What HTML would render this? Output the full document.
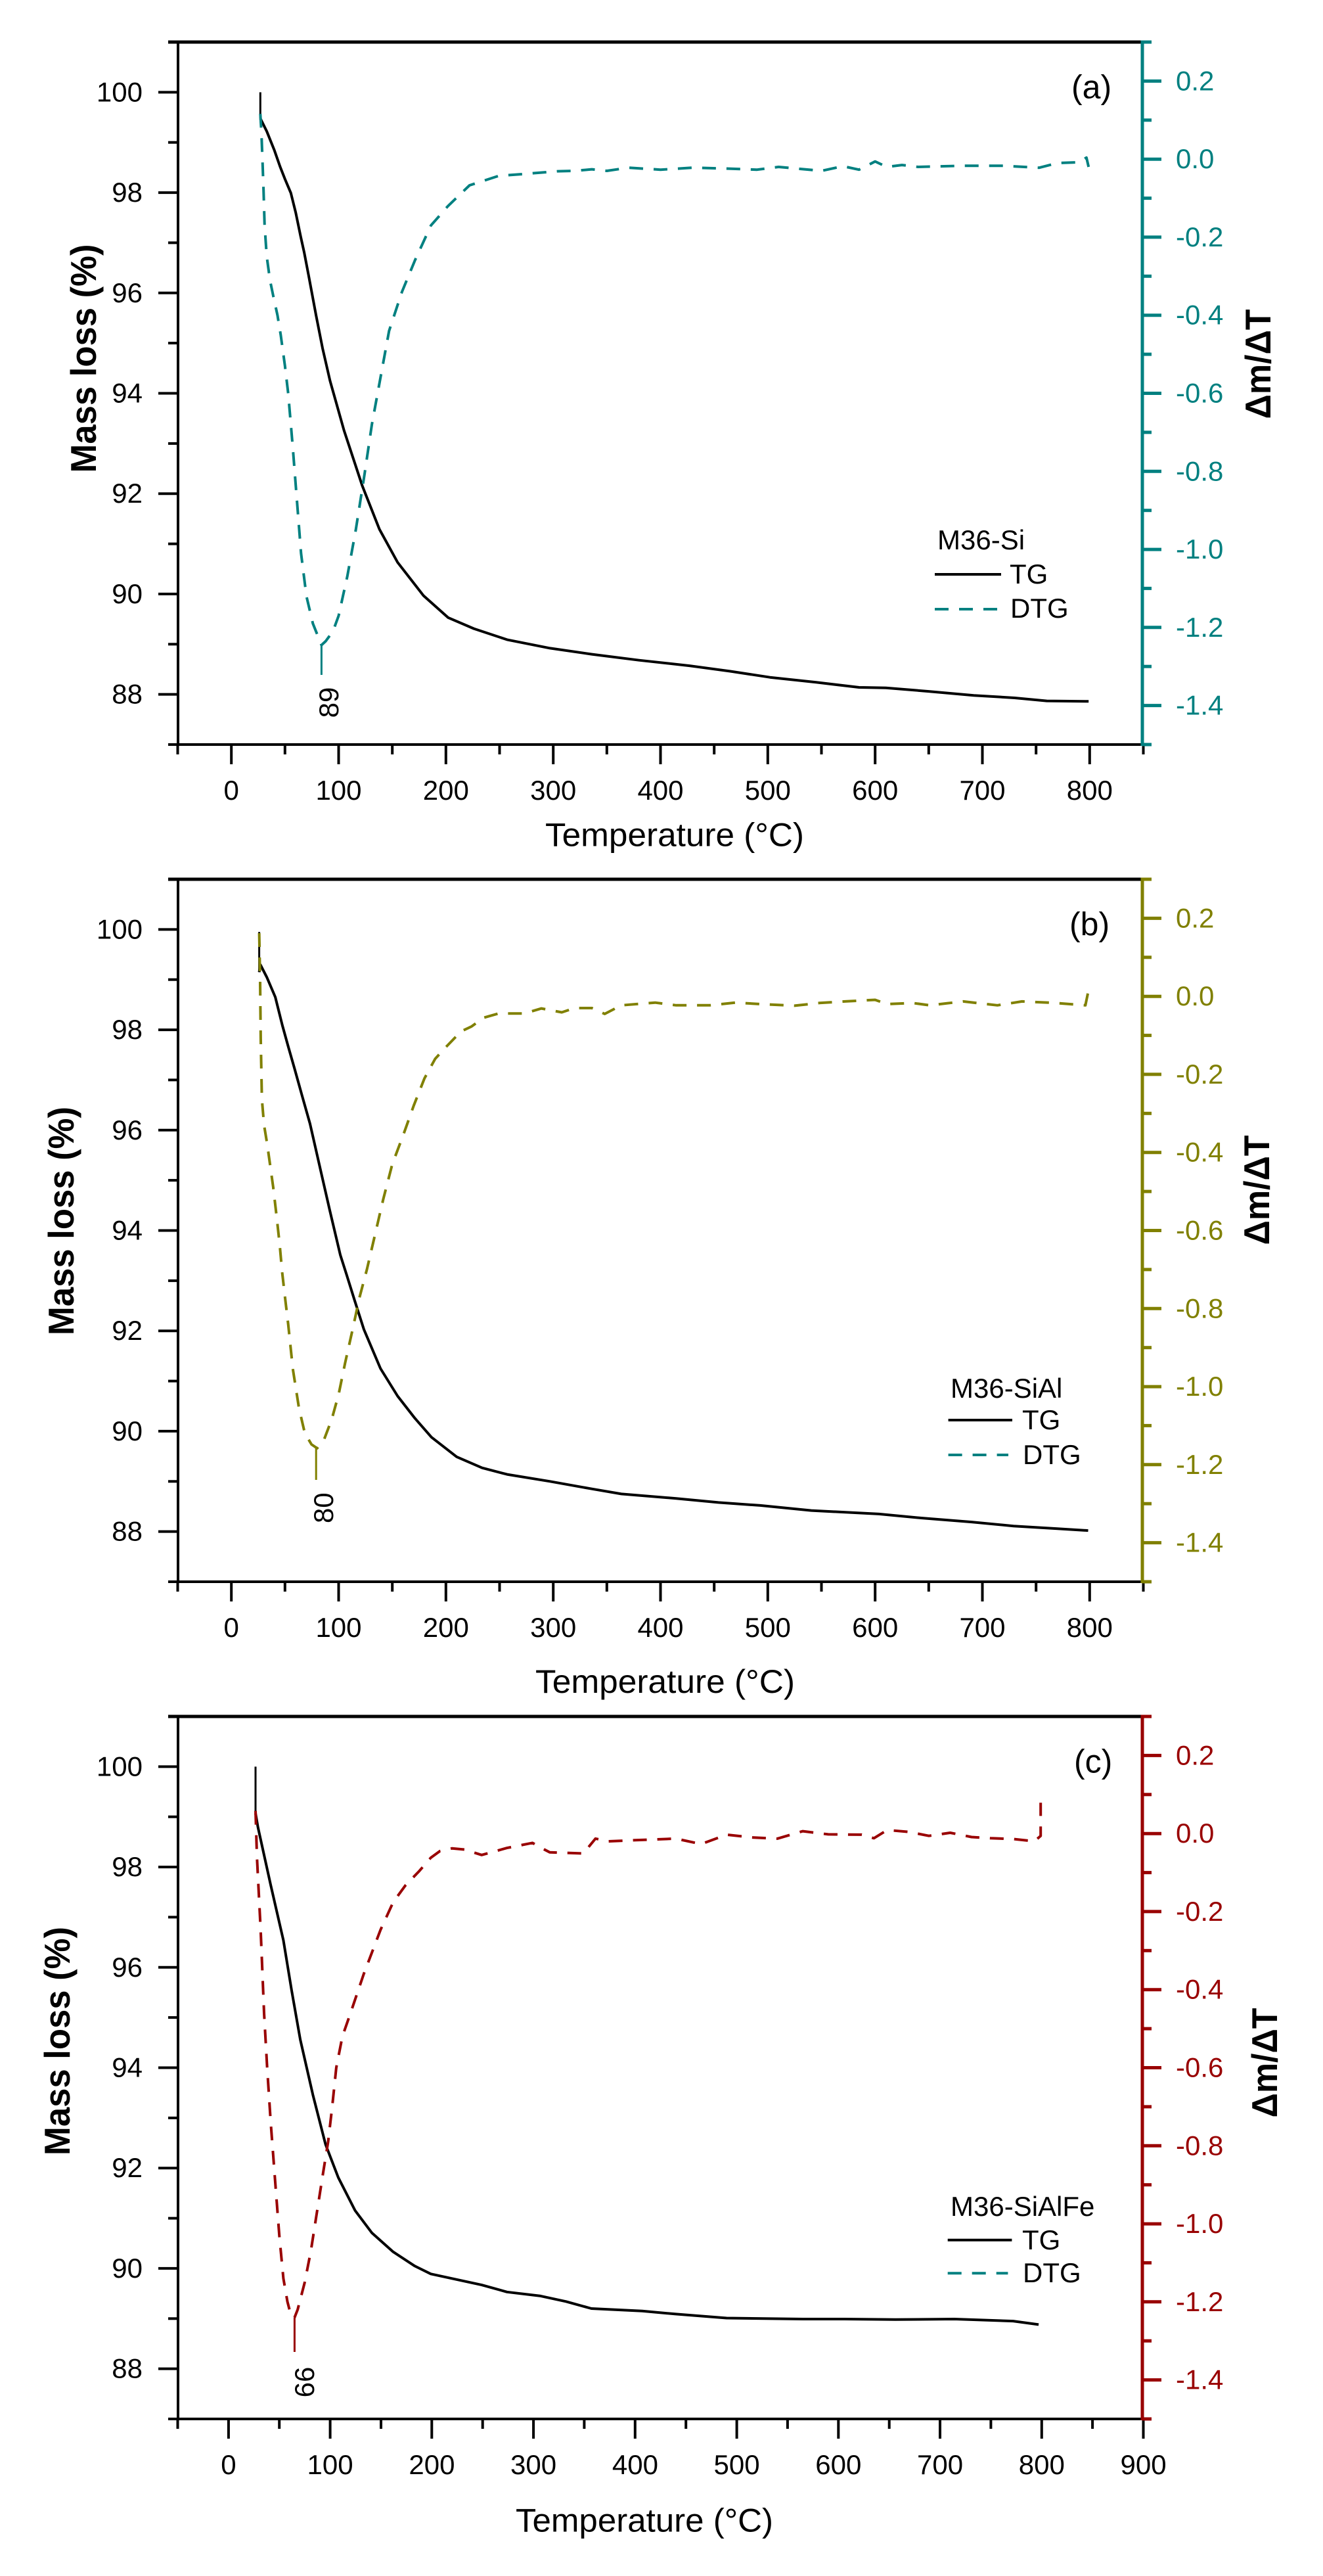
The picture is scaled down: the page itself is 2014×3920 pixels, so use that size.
<!DOCTYPE html>
<html>
<head>
<meta charset="utf-8">
<style>
html,body{margin:0;padding:0;background:#fff;}
svg{display:block;}
text{font-family:"Liberation Sans",Arial,sans-serif;}
.tl{font-size:42px;text-anchor:end;fill:#000;}
.bl{font-size:42px;text-anchor:middle;fill:#000;}
.rl{font-size:42px;text-anchor:start;}
.lg{font-size:42px;fill:#000;}
.ti{font-size:50px;fill:#000;}
.yt{font-size:55px;font-weight:bold;fill:#000;text-anchor:middle;}
.an{font-size:42px;fill:#000;text-anchor:middle;}
</style>
</head>
<body>
<svg id="svg" width="2014" height="3920" viewBox="0 0 2014 3920" xmlns="http://www.w3.org/2000/svg">
<rect x="0" y="0" width="2014" height="3920" fill="#fff"/>
<g id="plot"></g>

<!-- ================= Panel (a) ================= -->
<g>
<text class="tl" x="217" y="154.4">100</text>
<text class="tl" x="217" y="307.1">98</text>
<text class="tl" x="217" y="459.8">96</text>
<text class="tl" x="217" y="612.5">94</text>
<text class="tl" x="217" y="765.2">92</text>
<text class="tl" x="217" y="917.9">90</text>
<text class="tl" x="217" y="1070.6">88</text>
<text class="bl" x="352.2" y="1217">0</text>
<text class="bl" x="515.5" y="1217">100</text>
<text class="bl" x="678.8" y="1217">200</text>
<text class="bl" x="842.2" y="1217">300</text>
<text class="bl" x="1005.5" y="1217">400</text>
<text class="bl" x="1168.8" y="1217">500</text>
<text class="bl" x="1332.2" y="1217">600</text>
<text class="bl" x="1495.5" y="1217">700</text>
<text class="bl" x="1658.8" y="1217">800</text>
<g fill="#008080">
<text class="rl" x="1790" y="137.4">0.2</text>
<text class="rl" x="1790" y="256.2">0.0</text>
<text class="rl" x="1790" y="375">-0.2</text>
<text class="rl" x="1790" y="493.7">-0.4</text>
<text class="rl" x="1790" y="612.5">-0.6</text>
<text class="rl" x="1790" y="731.3">-0.8</text>
<text class="rl" x="1790" y="850.1">-1.0</text>
<text class="rl" x="1790" y="968.9">-1.2</text>
<text class="rl" x="1790" y="1087.6">-1.4</text>
</g>
<text class="ti" x="1631" y="149.5">(a)</text>
<text class="lg" x="1427" y="836">M36-Si</text>
<text class="lg" x="1537" y="888">TG</text>
<text class="lg" x="1538" y="940">DTG</text>
<text class="an" transform="translate(515,1069) rotate(-90)">89</text>
<text class="yt" transform="translate(146,545.5) rotate(-90)" textLength="348" lengthAdjust="spacingAndGlyphs">Mass loss (%)</text>
<text class="yt" transform="translate(1934,554) rotate(-90)" textLength="167" lengthAdjust="spacingAndGlyphs">Δm/ΔT</text>
<text class="ti" x="830" y="1287.5" textLength="394" lengthAdjust="spacingAndGlyphs">Temperature (°C)</text>
</g>

<!-- ================= Panel (b) ================= -->
<g transform="translate(0,1274)">
<text class="tl" x="217" y="154.4">100</text>
<text class="tl" x="217" y="307.1">98</text>
<text class="tl" x="217" y="459.8">96</text>
<text class="tl" x="217" y="612.5">94</text>
<text class="tl" x="217" y="765.2">92</text>
<text class="tl" x="217" y="917.9">90</text>
<text class="tl" x="217" y="1070.6">88</text>
<text class="bl" x="352.2" y="1217">0</text>
<text class="bl" x="515.5" y="1217">100</text>
<text class="bl" x="678.8" y="1217">200</text>
<text class="bl" x="842.2" y="1217">300</text>
<text class="bl" x="1005.5" y="1217">400</text>
<text class="bl" x="1168.8" y="1217">500</text>
<text class="bl" x="1332.2" y="1217">600</text>
<text class="bl" x="1495.5" y="1217">700</text>
<text class="bl" x="1658.8" y="1217">800</text>
<g fill="#808000">
<text class="rl" x="1790" y="137.4">0.2</text>
<text class="rl" x="1790" y="256.2">0.0</text>
<text class="rl" x="1790" y="375">-0.2</text>
<text class="rl" x="1790" y="493.7">-0.4</text>
<text class="rl" x="1790" y="612.5">-0.6</text>
<text class="rl" x="1790" y="731.3">-0.8</text>
<text class="rl" x="1790" y="850.1">-1.0</text>
<text class="rl" x="1790" y="968.9">-1.2</text>
<text class="rl" x="1790" y="1087.6">-1.4</text>
</g>
<text class="ti" x="1628" y="149.5">(b)</text>
</g>
<text class="lg" x="1447" y="2127">M36-SiAl</text>
<text class="lg" x="1556" y="2175">TG</text>
<text class="lg" x="1557" y="2228">DTG</text>
<text class="an" transform="translate(507,2294.7) rotate(-90)">80</text>
<text class="yt" transform="translate(112,1858) rotate(-90)" textLength="348" lengthAdjust="spacingAndGlyphs">Mass loss (%)</text>
<text class="yt" transform="translate(1932,1811) rotate(-90)" textLength="167" lengthAdjust="spacingAndGlyphs">Δm/ΔT</text>
<text class="ti" x="815" y="2576" textLength="395" lengthAdjust="spacingAndGlyphs">Temperature (°C)</text>

<!-- ================= Panel (c) ================= -->
<g transform="translate(0,2548)">
<text class="tl" x="217" y="154.4">100</text>
<text class="tl" x="217" y="307.1">98</text>
<text class="tl" x="217" y="459.8">96</text>
<text class="tl" x="217" y="612.5">94</text>
<text class="tl" x="217" y="765.2">92</text>
<text class="tl" x="217" y="917.9">90</text>
<text class="tl" x="217" y="1070.6">88</text>
<text class="bl" x="347.9" y="1217">0</text>
<text class="bl" x="502.6" y="1217">100</text>
<text class="bl" x="657.4" y="1217">200</text>
<text class="bl" x="812.1" y="1217">300</text>
<text class="bl" x="966.9" y="1217">400</text>
<text class="bl" x="1121.6" y="1217">500</text>
<text class="bl" x="1276.3" y="1217">600</text>
<text class="bl" x="1431.1" y="1217">700</text>
<text class="bl" x="1585.8" y="1217">800</text>
<text class="bl" x="1740.6" y="1217">900</text>
<g fill="#990000">
<text class="rl" x="1790" y="137.4">0.2</text>
<text class="rl" x="1790" y="256.2">0.0</text>
<text class="rl" x="1790" y="375">-0.2</text>
<text class="rl" x="1790" y="493.7">-0.4</text>
<text class="rl" x="1790" y="612.5">-0.6</text>
<text class="rl" x="1790" y="731.3">-0.8</text>
<text class="rl" x="1790" y="850.1">-1.0</text>
<text class="rl" x="1790" y="968.9">-1.2</text>
<text class="rl" x="1790" y="1087.6">-1.4</text>
</g>
<text class="ti" x="1635" y="149.5">(c)</text>
</g>
<text class="lg" x="1447" y="3372">M36-SiAlFe</text>
<text class="lg" x="1556" y="3423">TG</text>
<text class="lg" x="1557" y="3473">DTG</text>
<text class="an" transform="translate(478,3625) rotate(-90)">66</text>
<text class="yt" transform="translate(106,3106) rotate(-90)" textLength="348" lengthAdjust="spacingAndGlyphs">Mass loss (%)</text>
<text class="yt" transform="translate(1944,3139) rotate(-90)" textLength="167" lengthAdjust="spacingAndGlyphs">Δm/ΔT</text>
<text class="ti" x="785" y="3852.6" textLength="392" lengthAdjust="spacingAndGlyphs">Temperature (°C)</text>
</svg>

<script>
(function(){
var panels = [
 {oy:0, xr:900, col:'#008080',
  tg0:[27,100,99.48],
  tg:[[27,99.48],[30,99.35],[33,99.22],[40,98.85],[45.4,98.52],[50,98.27],[55.5,97.99],[60,97.6],[64.7,97.12],[68,96.8],[72,96.35],[79,95.55],[85,94.9],[92,94.25],[105,93.26],[122,92.16],[138,91.29],[155,90.63],[179,89.97],[202,89.53],[226,89.31],[257,89.09],[297,88.92],[336,88.8],[380,88.68],[427,88.57],[465,88.46],[502,88.34],[545,88.24],[585,88.14],[610,88.13],[650,88.06],[692,87.98],[730,87.93],[760,87.87],[799,87.86]],
  dtg:[[27,0.116],[28,0.07],[29,0.0],[30,-0.08],[31,-0.17],[33,-0.25],[36,-0.31],[39,-0.35],[43,-0.40],[46,-0.45],[50,-0.53],[53,-0.6],[57,-0.73],[61,-0.87],[65,-1.01],[70,-1.12],[76,-1.19],[84,-1.245],[88,-1.235],[92,-1.22],[96,-1.2],[100,-1.17],[104,-1.12],[108,-1.07],[116,-0.95],[124,-0.81],[131,-0.68],[139,-0.56],[147,-0.44],[159,-0.34],[171,-0.26],[186,-0.17],[202,-0.12],[222,-0.067],[249,-0.043],[273,-0.038],[304,-0.031],[320,-0.03],[336,-0.026],[350,-0.03],[370,-0.022],[400,-0.027],[430,-0.022],[460,-0.024],[490,-0.027],[510,-0.02],[530,-0.025],[550,-0.03],[570,-0.018],[585,-0.027],[600,-0.006],[611,-0.02],[625,-0.015],[640,-0.02],[680,-0.017],[720,-0.017],[753,-0.022],[770,-0.01],[790,-0.008],[797,0.004],[799,-0.02]],
  ann:[84,-1.245,1027]},
 {oy:1274, xr:900, col:'#808000',
  tg0:[26,99.95,99.15],
  tg:[[26,99.15],[27,99.3],[33,99.05],[41,98.65],[47.5,98.09],[53,97.67],[59,97.22],[66,96.68],[73.3,96.13],[82.7,95.25],[92,94.38],[101.6,93.51],[107.4,93.12],[115,92.6],[123.5,92.03],[139,91.25],[155,90.7],[171,90.26],[186.5,89.88],[210,89.49],[233.7,89.27],[257,89.14],[297,89.0],[336,88.85],[363.5,88.75],[414.6,88.66],[454,88.58],[493,88.52],[540.5,88.42],[603.5,88.35],[643,88.27],[690,88.19],[729,88.11],[768.7,88.06],[798.6,88.02]],
  dtg:[[26,0.162],[26.8,0.05],[27.4,-0.107],[28.5,-0.264],[30.5,-0.33],[33.3,-0.377],[36,-0.43],[39,-0.489],[42,-0.56],[45,-0.635],[47.4,-0.708],[50,-0.77],[53,-0.84],[57.4,-0.956],[63,-1.055],[68.5,-1.12],[74.7,-1.148],[80,-1.158],[86.5,-1.135],[93.6,-1.084],[100,-1.02],[106,-0.94],[112.5,-0.86],[119.6,-0.77],[126.3,-0.70],[134,-0.61],[141.6,-0.52],[150,-0.43],[160.4,-0.354],[170,-0.28],[180,-0.21],[190,-0.16],[200,-0.13],[214,-0.09],[224,-0.077],[235,-0.055],[249,-0.044],[273,-0.044],[289,-0.031],[308,-0.041],[320,-0.03],[336,-0.03],[348,-0.045],[363.5,-0.023],[395,-0.016],[414.6,-0.023],[446,-0.023],[470,-0.016],[493,-0.02],[525,-0.024],[548,-0.017],[572,-0.013],[600,-0.009],[611,-0.02],[635,-0.017],[651,-0.023],[682,-0.013],[714,-0.023],[737,-0.013],[768.7,-0.017],[796,-0.023],[798.6,0.011]],
  ann:[79,-1.158,2252-1274]},
 {oy:2548, xr:950, col:'#990000',
  tg0:[26.6,100,99.07],
  tg:[[26.6,99.07],[29,98.79],[41.5,97.64],[54,96.54],[62,95.55],[70.6,94.56],[83,93.46],[95.5,92.47],[108,91.81],[124.6,91.15],[141,90.71],[162,90.33],[183,90.05],[199,89.89],[224,89.78],[249,89.67],[274,89.53],[307,89.45],[332,89.34],[357,89.2],[407,89.15],[440,89.09],[490,89.01],[565,88.99],[606,88.99],[656,88.98],[714,88.99],[772,88.95],[797,88.88]],
  dtg:[[26.6,0.058],[28,-0.062],[31.6,-0.247],[35,-0.46],[38,-0.60],[41.5,-0.74],[45.7,-0.885],[50,-1.03],[54,-1.14],[58,-1.2],[62,-1.24],[65,-1.24],[68,-1.22],[75,-1.15],[81,-1.07],[87,-0.97],[93,-0.87],[98,-0.79],[102,-0.70],[106,-0.60],[112,-0.52],[120,-0.46],[133,-0.36],[149.5,-0.247],[162,-0.176],[174,-0.133],[187,-0.098],[199,-0.062],[208,-0.045],[220,-0.038],[232,-0.041],[249,-0.055],[274,-0.037],[299,-0.024],[310,-0.04],[316,-0.048],[349,-0.051],[361,-0.013],[374,-0.02],[400,-0.017],[440,-0.013],[465,-0.027],[490,-0.003],[515,-0.01],[540,-0.013],[565,0.006],[590,-0.002],[623,-0.003],[635,-0.012],[648,0.009],[670,0.004],[689,-0.006],[710,0.002],[731,-0.009],[750,-0.012],[772,-0.014],[793,-0.02],[799,-0.006],[799,0.079]],
  ann:[65,-1.24,3579-2548]}
];
function X(p,T){return 270.5+(T+50)*1470/p.xr;}
function YL(p,v){return p.oy+64+(101-v)*1069/14;}
function YR(p,d){return p.oy+64+(0.3-d)*1069/1.8;}
function f(n){return Math.round(n*10)/10;}
function ln(x1,y1,x2,y2,c,w){return '<line x1="'+f(x1)+'" y1="'+f(y1)+'" x2="'+f(x2)+'" y2="'+f(y2)+'" stroke="'+c+'" stroke-width="'+w+'"/>';}
var s='';
panels.forEach(function(p){
  var top=p.oy+64, bot=p.oy+1133;
  var d='';
  p.tg.forEach(function(pt,i){d+=(i?'L':'M')+f(X(p,pt[0]))+' '+f(YL(p,pt[1]))+' ';});
  s+='<path d="'+d+'" fill="none" stroke="#000" stroke-width="4" stroke-linejoin="round"/>';
  s+=ln(X(p,p.tg0[0]),YL(p,p.tg0[1]),X(p,p.tg0[0]),YL(p,p.tg0[2]),'#000',3);
  d='';
  p.dtg.forEach(function(pt,i){d+=(i?'L':'M')+f(X(p,pt[0]))+' '+f(YR(p,pt[1]))+' ';});
  s+='<path d="'+d+'" fill="none" stroke="'+p.col+'" stroke-width="4" stroke-dasharray="21 16" stroke-linejoin="round"/>';
  s+=ln(X(p,p.ann[0]),YR(p,p.ann[1]),X(p,p.ann[0]),p.oy+p.ann[2],p.col,3);
  s+=ln(256,top,1739,top,'#000',5);
  s+=ln(271,top-2,271,bot+2,'#000',4);
  s+=ln(256,bot,1739,bot,'#000',4);
  for(var v=87;v<=101;v++){
    var y=YL(p,v);
    s+=ln(v%2==0?241:256,y,271,y,'#000',4);
  }
  var xmax=p.xr-50;
  for(var T=-50;T<=xmax;T+=50){
    var x=X(p,T);
    s+=ln(x,bot,x,(T%100==0)?bot+30:bot+15,'#000',4);
  }
  s+=ln(1739,top-2.5,1739,bot+2,p.col,5);
  for(var i=3;i>=-15;i--){
    var yy=YR(p,i/10);
    s+=ln(1739,yy,(i%2==0)?1768:1753,yy,p.col,5);
  }
});
function legend(x1,x2,yTG,yDTG){
  s+=ln(x1,yTG,x2,yTG,'#000',4);
  s+='<line x1="'+x1+'" y1="'+yDTG+'" x2="'+(x2-6)+'" y2="'+yDTG+'" stroke="#008080" stroke-width="4" stroke-dasharray="21 16"/>';
}
legend(1423,1524,874,927);
legend(1443.6,1541,2161,2214);
legend(1442.7,1540.4,3408.7,3459.2);
document.getElementById('plot').innerHTML=s;
})();
</script>
</body>
</html>
